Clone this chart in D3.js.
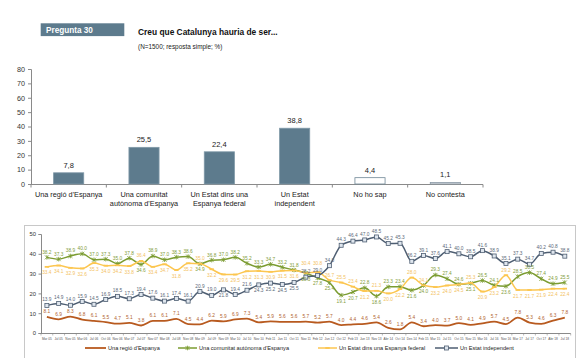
<!DOCTYPE html>
<html><head><meta charset="utf-8">
<script src="https://cdn.jsdelivr.net/npm/d3@7"></script>
<style>
body{margin:0;background:#fff}
svg{display:block;font-family:"Liberation Sans",Arial,sans-serif}
</style>
</head><body>
<svg id="c" width="580" height="358"></svg>
<script>
// ---------- data ----------
const barCategories = [
  ["Una regió d'Espanya"],
  ["Una comunitat", "autònoma d'Espanya"],
  ["Un Estat dins una", "Espanya federal"],
  ["Un Estat", "independent"],
  ["No ho sap"],
  ["No contesta"]
];
const barValues = [7.8, 25.5, 22.4, 38.8, 4.4, 1.1];
const barTicks = [0, 10, 20, 30, 40, 50, 60, 70, 80];

const waves = ["Mar 05","Jul 05","Nov 05","Mar 06","Jul 06","Oct 06","Nov 06","Mar 07","Jul 07","Nov 07",
  "Mar 08","Jul 08","Nov 08","Mar 09","Jul 09","Nov 09","Mar 10","Jul 10","Nov 10","Feb 11",
  "Jun 11","Oct 11","Nov 11","Feb 12","Jun 12","Oct 12","Feb 13","Jun 13","Nov 13","Abr 14",
  "Oct 14","Des 14","Feb 15","Mar 15","Jul 15","Oct 15","Nov 15","Mar 16","Jul 16","Nov 16",
  "Mar 17","Jul 17","Oct 17","Abr 18","Jul 18"];
const regio = [8.1,6.9,8.3,6.8,6.1,5.5,4.7,5.1,3.8,6.1,6.1,7.1,4.5,4.4,6.2,5.9,6.9,7.3,5.4,5.9,
  5.6,5.6,5.7,5.2,5.7,4.0,4.4,4.6,5.4,2.6,1.8,5.4,3.4,4.0,3.7,5.0,4.1,4.9,5.7,4.5,7.8,5.3,4.6,6.3,7.8];
const comunitat = [38.2,37.3,38.9,40.0,37.0,37.3,35.0,37.8,34.6,38.9,37.0,38.3,38.6,34.9,36.8,37.0,38.2,35.2,33.3,34.7,
  33.2,31.8,30.3,27.8,25.4,19.1,20.7,22.8,18.6,23.3,23.4,21.6,24.0,29.3,27.4,24.6,25.1,26.5,24.1,23.6,28.5,30.5,27.4,24.9,25.5];
const federal = [33.4,34.1,32.9,32.6,35.3,34.0,34.2,33.8,36.4,33.4,34.7,31.8,35.2,35.0,32.2,29.6,29.5,31.2,31.3,30.9,
  31.5,31.6,30.4,30.8,26.7,25.5,23.4,21.2,21.3,20.0,22.2,28.0,24.1,23.2,24.0,24.5,25.3,20.9,23.2,29.2,21.7,21.7,21.9,22.4,22.4];
const independent = [13.9,14.9,14.0,15.9,14.5,16.9,18.5,17.3,19.4,17.6,16.1,17.4,16.1,20.9,19.0,21.8,19.4,21.6,24.3,25.2,
  24.5,25.5,28.2,29.0,34.0,44.3,46.4,47.0,48.5,45.2,45.3,36.2,39.1,37.6,41.1,40.0,38.5,41.6,38.9,35.1,37.3,34.7,40.2,40.8,38.8];
const lineTicks = [0, 10, 20, 30, 40, 50];
const seriesNames = ["Una regió d'Espanya", "Una comunitat autònoma d'Espanya", "Un Estat dins una Espanya federal", "Un Estat independent"];

// ---------- setup ----------
const svg = d3.select("#c");
const fmt = v => d3.format(".1f")(v).replace(".", ",");
const fmtDot = v => d3.format(".1f")(v);

// header
svg.append("rect").attr("x", 40.7).attr("y", 23.3).attr("width", 83.6).attr("height", 12.8).attr("fill", "#5d7b8d");
svg.append("text").attr("x", 46).attr("y", 33).attr("fill", "#fff").attr("font-weight", "bold")
  .attr("font-size", 8.2).text("Pregunta 30");
svg.append("text").attr("x", 138).attr("y", 34.5).attr("fill", "#111").attr("font-weight", "bold")
  .attr("font-size", 8.4).text("Creu que Catalunya hauria de ser...");
svg.append("text").attr("x", 138).attr("y", 48.5).attr("fill", "#222")
  .attr("font-size", 6.4).text("(N=1500; resposta simple; %)");

// ---------- bar chart ----------
const bx = d3.scaleBand().domain(d3.range(barValues.length)).range([31, 483]).paddingInner(0.6).paddingOuter(0.3);
const by = d3.scaleLinear().domain([0, 80]).range([184, 69]);
const axisCol = "#8a8a8a";

const gyb = svg.append("g").attr("transform", "translate(31,0)")
  .call(d3.axisLeft(by).tickValues(barTicks).tickSize(3).tickPadding(3));
gyb.selectAll("path,line").attr("stroke", axisCol);
gyb.selectAll("text").attr("font-size", 7.2).attr("fill", "#333").attr("font-family", "Liberation Sans, Arial, sans-serif");

svg.append("line").attr("x1", 31).attr("x2", 483).attr("y1", 184.5).attr("y2", 184.5).attr("stroke", axisCol);
const step = bx.step();
d3.range(barValues.length + 1).forEach(i => {
  const xx = 31 + i * step;
  svg.append("line").attr("x1", xx).attr("x2", xx).attr("y1", 184.5).attr("y2", 187.5).attr("stroke", axisCol);
});

const barFill = ["#5d7b8d", "#5d7b8d", "#5d7b8d", "#5d7b8d", "#ffffff", "#d6dbe0"];
const barStroke = ["#7f98a7", "#7f98a7", "#7f98a7", "#7f98a7", "#6f8796", "#8a9aa6"];
svg.append("g").selectAll("rect").data(barValues).join("rect")
  .attr("x", (d, i) => bx(i)).attr("width", bx.bandwidth())
  .attr("y", d => by(d)).attr("height", d => by(0) - by(d))
  .attr("fill", (d, i) => barFill[i]).attr("stroke", (d, i) => barStroke[i]).attr("stroke-width", 0.8);

svg.append("g").selectAll("text").data(barValues).join("text")
  .attr("x", (d, i) => bx(i) + bx.bandwidth() / 2).attr("y", d => by(d) - 5)
  .attr("text-anchor", "middle").attr("font-size", 7.5).attr("fill", "#222").text(d => fmt(d));

barCategories.forEach((lines, i) => {
  const t = svg.append("text").attr("text-anchor", "middle").attr("font-size", 7.3).attr("fill", "#222");
  lines.forEach((ln, j) => {
    t.append("tspan").attr("x", bx(i) + bx.bandwidth() / 2).attr("y", 196.5 + j * 9).text(ln);
  });
});

// ---------- line chart ----------
svg.append("rect").attr("x", 24.5).attr("y", 225.5).attr("width", 551).attr("height", 145)
  .attr("fill", "none").attr("stroke", "#c8c8c8").attr("stroke-width", 1);

const lx = d3.scalePoint().domain(d3.range(waves.length)).range([41, 570.7]).padding(0.5);
const ly = d3.scaleLinear().domain([0, 50]).range([333, 234]);

const gyl = svg.append("g").attr("transform", "translate(41,0)")
  .call(d3.axisLeft(ly).tickValues(lineTicks).tickSize(2.5).tickPadding(2.5));
gyl.selectAll("path,line").attr("stroke", axisCol);
gyl.selectAll("text").attr("font-size", 5.8).attr("fill", "#333").attr("font-family", "Liberation Sans, Arial, sans-serif");

svg.append("line").attr("x1", 41).attr("x2", 570.7).attr("y1", 333.5).attr("y2", 333.5).attr("stroke", axisCol);
const lstep = lx.step();
d3.range(waves.length + 1).forEach(i => {
  const xx = 41 + i * lstep;
  svg.append("line").attr("x1", xx).attr("x2", xx).attr("y1", 333.5).attr("y2", 335.5).attr("stroke", axisCol).attr("stroke-width", 0.6);
});
svg.append("g").selectAll("text").data(waves).join("text")
  .attr("x", (d, i) => lx(i)).attr("y", 339.5).attr("text-anchor", "middle")
  .attr("font-size", 3.2).attr("fill", "#555").text(d => d);

const colors = ["#b85a1f", "#7b9c31", "#fcc650", "#4e5e72"];
const labelColors = ["#b0622e", "#7f9c3a", "#f3c25f", "#5a6878"];
const allSeries = [regio, comunitat, federal, independent];

const line = d3.line().x((d, i) => lx(i)).y(d => ly(d)).curve(d3.curveMonotoneX);

allSeries.forEach((s, k) => {
  svg.append("path").datum(s).attr("d", line).attr("fill", "none")
    .attr("stroke", colors[k]).attr("stroke-width", k === 0 ? 1.8 : 1.5);
});

function marker(g, k, x, y) {
  if (k === 1) {
    g.append("path").attr("d", `M${x-2},${y-2}L${x+2},${y+2}M${x-2},${y+2}L${x+2},${y-2}M${x},${y-2.3}L${x},${y+2.3}`)
      .attr("stroke", colors[1]).attr("stroke-width", 0.8);
  } else if (k === 2) {
    g.append("rect").attr("x", x - 2.2).attr("y", y - 0.9).attr("width", 4.4).attr("height", 1.8).attr("fill", colors[2]);
  } else if (k === 3) {
    g.append("rect").attr("x", x - 2).attr("y", y - 2).attr("width", 4).attr("height", 4)
      .attr("fill", "#dfe6ee").attr("stroke", colors[3]).attr("stroke-width", 0.8);
  }
}
const mg = svg.append("g");
allSeries.forEach((s, k) => s.forEach((v, i) => marker(mg, k, lx(i), ly(v))));

// data labels (placement derived from the relative order of the series)
const lg = svg.append("g").attr("font-size", 4.8).attr("text-anchor", "middle");
allSeries.forEach((s, k) => {
  s.forEach((v, i) => {
    let dy = -3.5;
    if (k === 1) dy = comunitat[i] >= federal[i] ? -3.5 : 7.5;
    if (k === 2) {
      if (federal[i] > comunitat[i]) {
        dy = Math.abs(federal[i] - independent[i]) < 3 ? -7.5 : -3.5;
      } else dy = 7.5;
    }
    if (k === 3) {
      const gap = federal[i] - independent[i];
      dy = (gap > 0 && gap < 9 && federal[i] < comunitat[i]) ? 7.5 : -4;
    }
    lg.append("text").attr("x", lx(i)).attr("y", ly(v) + dy)
      .attr("fill", labelColors[k]).text(fmtDot(v));
  });
});

// legend
const legendPos = [[85, 106, 108], [178, 197, 199], [318, 337, 339], [435, 458, 460]];
const legend = svg.append("g");
seriesNames.forEach((n, k) => {
  const [a, b, t] = legendPos[k];
  legend.append("line").attr("x1", a).attr("x2", b).attr("y1", 348).attr("y2", 348)
    .attr("stroke", colors[k]).attr("stroke-width", k === 0 ? 1.8 : 1.5);
  marker(legend, k, (a + b) / 2, 348);
  legend.append("text").attr("x", t).attr("y", 350).attr("font-size", 5.6).attr("fill", "#222").text(n);
});
</script>
</body></html>
